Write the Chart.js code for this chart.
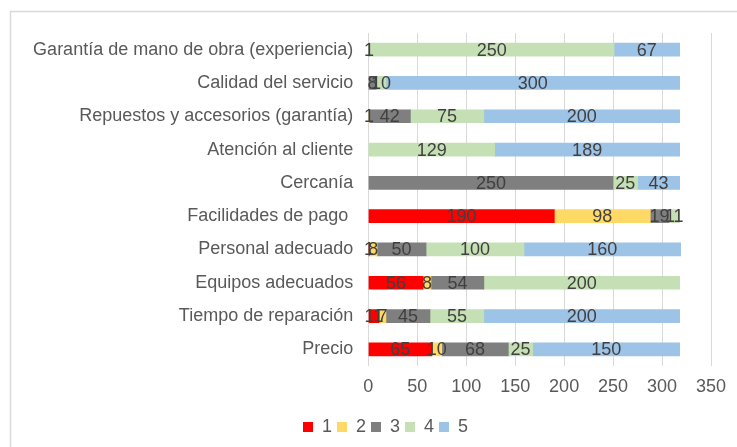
<!DOCTYPE html>
<html>
<head>
<meta charset="utf-8">
<script src="https://cdn.jsdelivr.net/npm/chart.js@4"></script>
<style>
  html, body { margin: 0; padding: 0; background: #ffffff; overflow: hidden; }
  #wrap { width: 737px; height: 447px; }
</style>
</head>
<body>
<div id="wrap"><canvas id="c" width="737" height="447"></canvas></div>
<script>
const categories = [
  "Garantía de mano de obra (experiencia)",
  "Calidad del servicio",
  "Repuestos y accesorios (garantía)",
  "Atención al cliente",
  "Cercanía",
  "Facilidades de pago ",
  "Personal adecuado",
  "Equipos adecuados",
  "Tiempo de reparación",
  "Precio"
];
const seriesNames = ["1", "2", "3", "4", "5"];
const s1 = [0, 0, 0, 0, 0, 190, 1, 56, 11, 65];
const s2 = [0, 0, 1, 0, 0, 98, 8, 8, 7, 10];
const s3 = [1, 8, 42, 0, 250, 19, 50, 54, 45, 68];
const s4 = [250, 10, 75, 129, 25, 11, 100, 200, 55, 25];
const s5 = [67, 300, 200, 189, 43, 0, 160, 0, 200, 150];
const xTicks = [0, 50, 100, 150, 200, 250, 300, 350];

const colors = ["#FF0000", "#FFD966", "#7F7F7F", "#C5E0B4", "#9DC3E6"];
const FONT = "'Liberation Sans', Arial, sans-serif";

const seriesData = [s1, s2, s3, s4, s5];
const datasets = seriesData.map((d, i) => ({
  label: seriesNames[i],
  data: d.map(v => (v === 0 ? null : v)),
  backgroundColor: colors[i],
  borderWidth: 0,
  barThickness: 13
}));

const frame = {
  id: 'frame',
  beforeDraw(chart) {
    const ctx = chart.ctx;
    ctx.save();
    ctx.fillStyle = '#ffffff';
    ctx.fillRect(0, 0, chart.width, chart.height);
    ctx.strokeStyle = '#D9D9D9';
    ctx.lineWidth = 1.5;
    ctx.beginPath();
    ctx.moveTo(10.5, chart.height + 5);
    ctx.lineTo(10.5, 11.5);
    ctx.lineTo(chart.width + 5, 11.5);
    ctx.stroke();
    ctx.restore();
  }
};

// Excel centres the legend on a frame wider than the visible crop
const legendShift = {
  id: 'legendShift',
  afterLayout(chart) {
    const lg = chart.legend;
    if (lg) { lg.left += 30; lg.right += 30; }
  }
};

const valueLabels = {
  id: 'valueLabels',
  afterDatasetsDraw(chart) {
    const ctx = chart.ctx;
    ctx.save();
    ctx.font = "18px " + FONT;
    ctx.fillStyle = '#404040';
    ctx.textAlign = 'center';
    ctx.textBaseline = 'middle';
    chart.data.datasets.forEach((ds, di) => {
      const meta = chart.getDatasetMeta(di);
      meta.data.forEach((el, i) => {
        const v = ds.data[i];
        if (!v) return;
        const p = el.getCenterPoint();
        ctx.fillText(String(v), p.x, p.y + 1);
      });
    });
    ctx.restore();
  }
};

new Chart(document.getElementById('c'), {
  type: 'bar',
  data: { labels: categories, datasets: datasets },
  options: {
    indexAxis: 'y',
    responsive: false,
    animation: false,
    devicePixelRatio: 1,
    layout: { padding: { left: 0, right: 26, top: 33, bottom: 1 } },
    scales: {
      x: {
        stacked: true,
        min: 0,
        max: 350,
        afterBuildTicks(scale) { scale.ticks = xTicks.map(v => ({ value: v })); },
        afterFit(scale) { scale.height = 47; },
        grid: { color: '#D9D9D9', lineWidth: 1, drawTicks: false },
        border: { display: false },
        ticks: { padding: 10, color: '#595959', font: { family: FONT, size: 18 } }
      },
      y: {
        stacked: true,
        afterFit(scale) { scale.width = 368.3; },
        grid: { display: false, drawTicks: false },
        border: { display: false },
        ticks: { padding: 15, color: '#595959', font: { family: FONT, size: 18 }, autoSkip: false }
      }
    },
    plugins: {
      legend: {
        position: 'bottom',
        labels: {
          boxWidth: 10,
          boxHeight: 10,
          padding: 5,
          color: '#595959',
          font: { family: FONT, size: 18 }
        }
      },
      tooltip: { enabled: false }
    }
  },
  plugins: [frame, legendShift, valueLabels]
});
</script>
</body>
</html>
